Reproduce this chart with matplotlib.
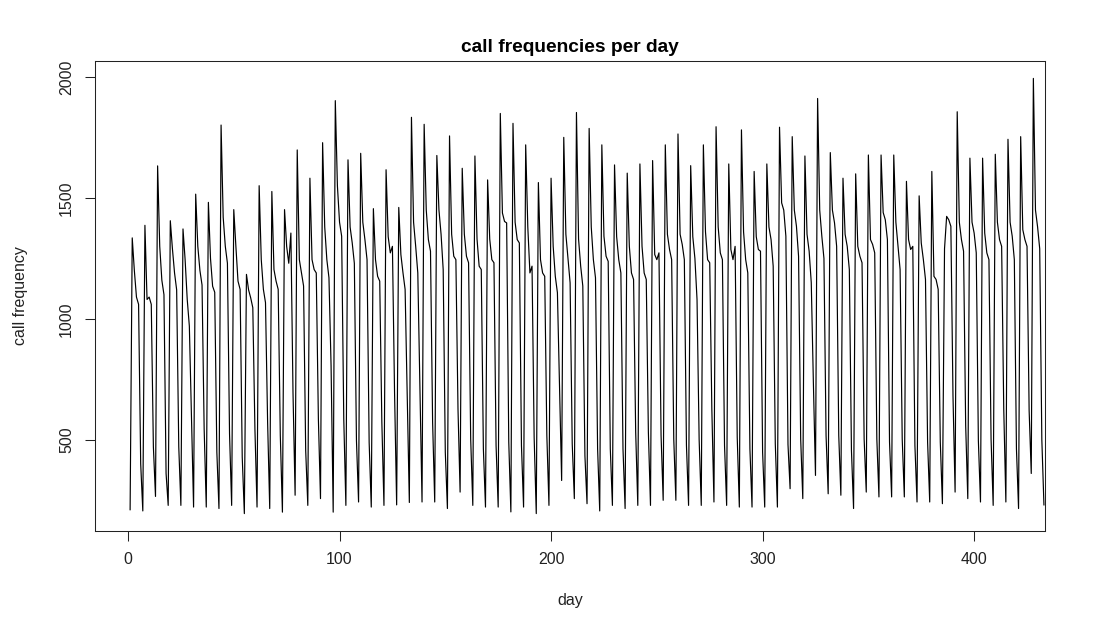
import matplotlib
matplotlib.use("Agg")
import matplotlib.pyplot as plt
import numpy as np

# first day, then one row per 6-day cycle: peak, three working days, two quiet days
first_day = [210]
cycles = [
    [1335, 1200, 1090, 1060, 400, 205],
    [1387, 1080, 1090, 1060, 470, 265],
    [1633, 1300, 1160, 1100, 360, 228],
    [1406, 1290, 1190, 1120, 470, 228],
    [1372, 1245, 1080, 970, 600, 221],
    [1516, 1300, 1200, 1140, 545, 221],
    [1482, 1250, 1135, 1110, 448, 215],
    [1802, 1420, 1300, 1230, 524, 228],
    [1452, 1300, 1156, 1122, 428, 194],
    [1184, 1120, 1087, 1046, 544, 221],
    [1551, 1245, 1122, 1067, 572, 215],
    [1527, 1204, 1156, 1122, 517, 200],
    [1452, 1300, 1230, 1355, 696, 270],
    [1699, 1245, 1190, 1136, 455, 228],
    [1582, 1245, 1204, 1190, 586, 256],
    [1729, 1380, 1245, 1170, 806, 200],
    [1903, 1550, 1400, 1342, 586, 228],
    [1658, 1380, 1314, 1230, 496, 242],
    [1685, 1400, 1328, 1245, 489, 221],
    [1456, 1245, 1176, 1156, 572, 228],
    [1617, 1340, 1273, 1300, 700, 230],
    [1461, 1266, 1190, 1122, 682, 240],
    [1834, 1400, 1300, 1190, 710, 242],
    [1805, 1450, 1328, 1280, 572, 242],
    [1676, 1450, 1350, 1204, 448, 215],
    [1757, 1350, 1259, 1245, 627, 283],
    [1623, 1350, 1259, 1232, 503, 228],
    [1674, 1330, 1218, 1204, 462, 221],
    [1575, 1330, 1245, 1232, 476, 221],
    [1850, 1438, 1403, 1397, 490, 201],
    [1809, 1400, 1328, 1314, 476, 221],
    [1720, 1380, 1190, 1218, 510, 194],
    [1564, 1245, 1190, 1176, 517, 228],
    [1582, 1300, 1176, 1108, 723, 331],
    [1751, 1350, 1250, 1149, 483, 256],
    [1854, 1330, 1218, 1136, 434, 235],
    [1788, 1380, 1245, 1170, 462, 205],
    [1720, 1342, 1259, 1238, 462, 228],
    [1637, 1340, 1245, 1190, 462, 215],
    [1603, 1300, 1190, 1163, 531, 228],
    [1641, 1300, 1190, 1163, 531, 228],
    [1655, 1266, 1245, 1273, 517, 249],
    [1720, 1350, 1287, 1245, 503, 249],
    [1765, 1350, 1308, 1245, 476, 228],
    [1634, 1340, 1250, 1080, 500, 228],
    [1720, 1360, 1245, 1232, 627, 242],
    [1795, 1380, 1273, 1245, 476, 228],
    [1641, 1287, 1245, 1300, 510, 221],
    [1782, 1360, 1245, 1190, 462, 221],
    [1610, 1340, 1287, 1280, 448, 221],
    [1641, 1380, 1328, 1218, 483, 221],
    [1793, 1480, 1450, 1342, 480, 297],
    [1754, 1450, 1383, 1259, 503, 256],
    [1674, 1350, 1280, 1150, 737, 352],
    [1912, 1450, 1342, 1250, 517, 276],
    [1688, 1450, 1397, 1300, 517, 270],
    [1582, 1350, 1300, 1204, 455, 215],
    [1600, 1300, 1259, 1232, 503, 283],
    [1678, 1328, 1308, 1273, 503, 263],
    [1678, 1440, 1410, 1328, 490, 263],
    [1678, 1400, 1300, 1204, 503, 263],
    [1569, 1328, 1287, 1300, 476, 242],
    [1509, 1314, 1245, 1163, 490, 242],
    [1610, 1176, 1163, 1122, 490, 235],
    [1290, 1424, 1410, 1383, 682, 283],
    [1857, 1400, 1328, 1280, 558, 256],
    [1665, 1400, 1355, 1273, 496, 242],
    [1665, 1355, 1273, 1245, 503, 228],
    [1681, 1400, 1328, 1300, 627, 242],
    [1743, 1400, 1342, 1245, 462, 215],
    [1754, 1369, 1328, 1300, 620, 360],
    [1995, 1450, 1380, 1290, 500, 230],
]

calls = first_day + [v for row in cycles for v in row]
days = np.arange(1, len(calls) + 1)

xticks = [0, 100, 200, 300, 400]
yticks = [500, 1000, 1500, 2000]

W, H = 1098, 623
fig = plt.figure(figsize=(W / 100, H / 100), dpi=100)
plt.rcParams['font.family'] = ['Liberation Sans', 'DejaVu Sans']

left, right, top, bottom = 95, 1045, 61, 531
ax = fig.add_axes([left / W, 1 - bottom / H, (right - left) / W, (bottom - top) / H])

ax.plot(days, calls, color='black', linewidth=0.85)

# x range; y range uses R style 4% padding
ax.set_xlim(-15.6, 433.5)
lo, hi = min(calls), max(calls)
pad_y = 0.04 * (hi - lo)
ax.set_ylim(lo - pad_y, hi + pad_y)

ax.set_xticks(xticks)
ax.set_yticks(yticks)
ax.set_xticklabels([str(t) for t in xticks])
ax.set_yticklabels([str(t) for t in yticks], rotation=90, va='center')
ax.tick_params(direction='out', length=7, width=0.75, labelsize=11.5, pad=8, colors='#222222')
for s in ax.spines.values():
    s.set_linewidth(0.75)
    s.set_color('#222222')

fig.text(0.5 * (left + right) / W, 1 - 47 / H, 'call frequencies per day',
         ha='center', va='center', fontsize=13.8, fontweight='bold')
fig.text(0.5 * (left + right) / W, 1 - 600 / H, 'day', ha='center', va='center', fontsize=11.5, color='#222222')
fig.text(20 / W, 1 - 0.5 * (top + bottom) / H, 'call frequency', ha='center', va='center',
         rotation=90, fontsize=11.5, color='#222222')

fig.savefig('out.png', dpi=100)
